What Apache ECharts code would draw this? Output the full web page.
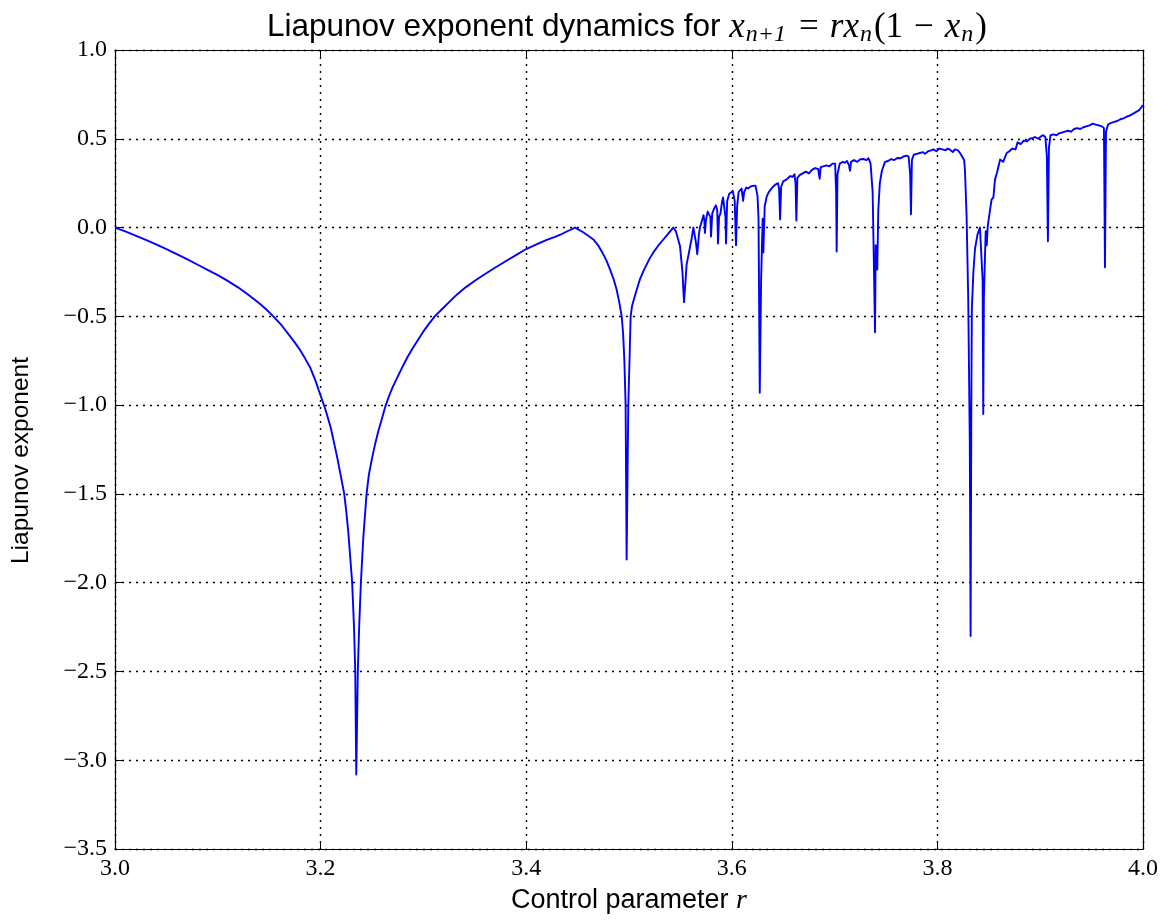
<!DOCTYPE html>
<html>
<head>
<meta charset="utf-8">
<script src="https://cdn.jsdelivr.net/npm/echarts@6/dist/echarts.min.js"></script>
<style>
  html, body { margin: 0; padding: 0; background: #fff; }
  #chart { width: 1165px; height: 920px; }
</style>
</head>
<body>
<div id="chart"></div>
<script>
// Control parameter r (x) and the estimated Liapunov exponent (y)
const rValues = [
  // period-2 window
  3.000, 3.010, 3.020, 3.030, 3.040, 3.050, 3.060, 3.070, 3.080, 3.090,
  3.100, 3.110, 3.120, 3.130, 3.140, 3.147, 3.154, 3.162, 3.170, 3.175,
  3.180, 3.185, 3.190, 3.195, 3.199, 3.202, 3.205, 3.210, 3.216, 3.219,
  3.223, 3.225, 3.227, 3.2307, 3.2325, 3.2337, 3.2347, 3.2362, 3.2375, 3.2392,
  3.2415, 3.2447, 3.247, 3.250, 3.253, 3.256, 3.259, 3.2634, 3.2665, 3.270,
  3.275, 3.280, 3.285, 3.290, 3.295, 3.300, 3.305, 3.311, 3.318, 3.325,
  3.333, 3.3417, 3.350, 3.360, 3.370, 3.380, 3.390, 3.400, 3.410, 3.420,
  3.428, 3.435, 3.441, 3.4475,
  // period-4 window
  3.451, 3.455, 3.460, 3.4653, 3.470, 3.474, 3.478, 3.4815, 3.485, 3.488,
  3.4905, 3.4929, 3.4943, 3.4955, 3.4967, 3.4977, 3.4993, 3.5005, 3.5016, 3.503,
  3.505, 3.508, 3.5107, 3.514, 3.517, 3.520, 3.5237, 3.528, 3.533, 3.538,
  3.543,
  // period-8 and period-16 windows
  3.5455, 3.5475, 3.5496, 3.5520, 3.5535, 3.5550, 3.5560, 3.5590, 3.5610, 3.5626,
  3.5650, 3.5664, 3.5680, 3.5690,
  // onset of chaos
  3.5700, 3.5715, 3.5725, 3.5733, 3.5739, 3.5748, 3.5765, 3.5780, 3.5792, 3.5798,
  3.5810, 3.5830, 3.5845, 3.5858, 3.5866, 3.5876, 3.5890, 3.5905, 3.5915, 3.5930,
  3.5938, 3.5944, 3.5955, 3.5975, 3.5990, 3.6010, 3.6028, 3.6041, 3.6052, 3.6066,
  3.6080, 3.6095, 3.6110, 3.6120, 3.6140, 3.6160, 3.6180, 3.6200, 3.6215, 3.6230,
  3.6250,
  // chaotic band with periodic windows
  3.6260, 3.6272, 3.6285, 3.6300, 3.6307, 3.6320, 3.6340, 3.6360, 3.6380, 3.6400,
  3.6420, 3.6450, 3.6460, 3.6470, 3.6480, 3.6500, 3.6530, 3.6550, 3.6570, 3.6590,
  3.6610, 3.6620, 3.6628, 3.6638, 3.6660, 3.6690, 3.6720, 3.6750, 3.6780, 3.6810,
  3.6840, 3.6855, 3.6865, 3.6890, 3.6920, 3.6950, 3.6980, 3.7005, 3.7015, 3.7020,
  3.7028, 3.7050, 3.7080, 3.7100, 3.7120, 3.7140, 3.7150, 3.7160, 3.7190, 3.7220,
  3.7250, 3.7280, 3.7310, 3.7330, 3.7350, 3.7370, 3.7385, 3.7393, 3.7400, 3.7410,
  3.7415, 3.7425, 3.7440, 3.7460, 3.7474, 3.7490, 3.7520, 3.7550, 3.7580, 3.7610,
  3.7640, 3.7670, 3.7700, 3.7720, 3.7735, 3.7743, 3.7752, 3.7770, 3.7800, 3.7830,
  3.7860, 3.7880, 3.7910, 3.7940, 3.7960, 3.7990, 3.8020, 3.8050, 3.8080, 3.8100,
  3.8120, 3.8150, 3.8170, 3.8200, 3.8220, 3.8236, 3.8260, 3.8268, 3.8284, 3.8300,
  3.8315, 3.8323, 3.8330, 3.8335, 3.8350, 3.8366, 3.8390, 3.8414, 3.8430, 3.8440,
  3.8446, 3.8452, 3.8463, 3.8470, 3.8480, 3.8490, 3.8512, 3.8527, 3.8545, 3.8560,
  3.8580, 3.8610, 3.8640, 3.8674, 3.8700, 3.8730, 3.8760, 3.8780, 3.8810, 3.8840,
  3.8870, 3.8900, 3.8930, 3.8950, 3.8980, 3.9010, 3.9030, 3.9050, 3.9065, 3.9075,
  3.9085, 3.9100, 3.9130, 3.9160, 3.9180, 3.9210, 3.9240, 3.9270, 3.9300, 3.9330,
  3.9360, 3.9390, 3.9420, 3.9450, 3.9480, 3.9510, 3.9540, 3.9570, 3.9600, 3.9620,
  3.9630, 3.9640, 3.9660, 3.9690, 3.9720, 3.9750, 3.9780, 3.9810, 3.9840, 3.9870,
  3.9900, 3.9930, 3.9960, 3.9980, 4.0000
];

const lyapValues = [
  // period-2 window
  0.000, -0.022, -0.045, -0.070, -0.095, -0.122, -0.150, -0.178, -0.208, -0.238,
  -0.268, -0.302, -0.338, -0.380, -0.425, -0.460, -0.500, -0.550, -0.610, -0.648,
  -0.690, -0.738, -0.790, -0.862, -0.930, -0.980, -1.030, -1.130, -1.290, -1.380,
  -1.500, -1.600, -1.720, -2.000, -2.250, -2.500, -3.080, -2.500, -2.250, -2.000,
  -1.750, -1.500, -1.390, -1.300, -1.220, -1.150, -1.090, -1.000, -0.950, -0.900,
  -0.840, -0.780, -0.725, -0.675, -0.630, -0.585, -0.545, -0.500, -0.460, -0.420,
  -0.375, -0.334, -0.300, -0.262, -0.225, -0.190, -0.155, -0.121, -0.095, -0.070,
  -0.052, -0.035, -0.018, 0.000,
  // period-4 window
  -0.012, -0.025, -0.045, -0.067, -0.100, -0.140, -0.185, -0.236, -0.290, -0.350,
  -0.420, -0.500, -0.600, -0.750, -1.000, -1.870, -1.000, -0.750, -0.500, -0.440,
  -0.400, -0.340, -0.290, -0.245, -0.210, -0.175, -0.140, -0.105, -0.070, -0.035,
  0.000,
  // period-8 and period-16 windows
  -0.020, -0.060, -0.105, -0.250, -0.420, -0.300, -0.210, -0.120, -0.060, 0.000,
  -0.080, -0.150, -0.040, 0.000,
  // onset of chaos
  0.010, 0.050, 0.070, 0.040, -0.030, 0.040, 0.090, 0.100, 0.060, -0.050,
  0.080, 0.110, 0.125, 0.100, -0.090, 0.060, 0.080, 0.145, 0.170, 0.160,
  0.060, -0.090, 0.150, 0.190, 0.200, 0.205, 0.150, -0.100, 0.120, 0.200,
  0.210, 0.220, 0.150, 0.200, 0.225, 0.220, 0.230, 0.235, 0.240, 0.236,
  0.180,
  // chaotic band with periodic windows
  0.050, -0.930, -0.300, 0.050, -0.140, 0.120, 0.176, 0.200, 0.215, 0.230,
  0.240, 0.250, 0.220, 0.046, 0.230, 0.260, 0.270, 0.280, 0.290, 0.285,
  0.300, 0.250, 0.040, 0.280, 0.295, 0.305, 0.315, 0.305, 0.325, 0.335,
  0.330, 0.275, 0.340, 0.345, 0.350, 0.345, 0.360, 0.360, 0.200, -0.135,
  0.300, 0.360, 0.370, 0.365, 0.375, 0.350, 0.320, 0.370, 0.380, 0.370,
  0.385, 0.386, 0.380, 0.390, 0.360, 0.200, -0.300, -0.590, -0.100, -0.150,
  -0.236, 0.100, 0.250, 0.320, 0.326, 0.370, 0.375, 0.385, 0.380, 0.392,
  0.390, 0.400, 0.405, 0.400, 0.300, 0.075, 0.380, 0.410, 0.415, 0.420,
  0.425, 0.415, 0.430, 0.435, 0.440, 0.430, 0.445, 0.440, 0.435, 0.445,
  0.440, 0.425, 0.440, 0.435, 0.420, 0.430, 0.380, 0.326, 0.064, -0.405,
  -1.200, -2.300, -1.000, -0.460, -0.250, -0.118, -0.040, 0.000, -0.010, -0.300,
  -1.050, -0.400, -0.160, -0.020, -0.100, 0.010, 0.100, 0.157, 0.170, 0.270,
  0.310, 0.383, 0.370, 0.420, 0.430, 0.445, 0.440, 0.480, 0.470, 0.490,
  0.485, 0.500, 0.505, 0.510, 0.500, 0.515, 0.520, 0.510, 0.400, -0.077,
  0.450, 0.520, 0.525, 0.520, 0.530, 0.535, 0.540, 0.545, 0.540, 0.555,
  0.560, 0.555, 0.565, 0.570, 0.575, 0.585, 0.580, 0.575, 0.570, 0.560,
  -0.224, 0.540, 0.580, 0.590, 0.595, 0.600, 0.610, 0.615, 0.624, 0.630,
  0.640, 0.650, 0.660, 0.675, 0.690
];

// Axis ranges and tick labels
const xTicks = ['3.0', '3.2', '3.4', '3.6', '3.8', '4.0'];
const yTicks = ['\u22123.5', '\u22123.0', '\u22122.5', '\u22122.0', '\u22121.5', '\u22121.0', '\u22120.5', '0.0', '0.5', '1.0'];
const xMin = 3.0, xMax = 4.0, xStep = 0.2;
const yMin = -3.5, yMax = 1.0, yStep = 0.5;

const points = rValues.map((r, i) => [r, lyapValues[i]]);

const tickFont = {
  fontFamily: '"Liberation Serif", "DejaVu Serif", serif',
  fontSize: 24,
  color: '#000'
};

function xLabel(v) {
  const i = Math.round((v - xMin) / xStep);
  return xTicks[i] !== undefined ? xTicks[i] : '';
}
function yLabel(v) {
  const i = Math.round((v - yMin) / yStep);
  return yTicks[i] !== undefined ? yTicks[i] : '';
}

const gridLine = { show: true, lineStyle: { color: '#000', width: 1.4, type: [2, 5] } };
const frameLine = { show: true, onZero: false, lineStyle: { color: '#000', width: 1.2 } };
const tickIn = { show: true, inside: true, length: 8, lineStyle: { color: '#000', width: 1 } };

const serif = '"Liberation Serif", serif';
const sans = '"Liberation Sans", Arial, sans-serif';

const chart = echarts.init(document.getElementById('chart'), null, { renderer: 'canvas' });

chart.setOption({
  animation: false,
  backgroundColor: '#fff',
  title: {
    text: 'Liapunov exponent dynamics for {m|x}{s|n+1}{e|=}{m|rx}{s|n}{o|(1}{e|\u2212}{m|x}{s|n}{o|)}',
    left: 262,
    top: 3,
    textStyle: {
      fontFamily: sans,
      fontSize: 31.5,
      fontWeight: 'normal',
      color: '#000',
      rich: {
        m: { fontFamily: serif, fontStyle: 'italic', fontSize: 35, verticalAlign: 'middle' },
        o: { fontFamily: serif, fontSize: 35, verticalAlign: 'middle' },
        e: { fontFamily: serif, fontSize: 35, verticalAlign: 'middle', padding: [0, 11, 0, 11] },
        s: { fontFamily: serif, fontStyle: 'italic', fontSize: 24, padding: [15, 2, 0, 1], verticalAlign: 'middle' }
      }
    }
  },
  // Vertical axis title
  graphic: [
    {
      type: 'text',
      left: 9,
      top: 357,
      rotation: Math.PI / 2,
      style: {
        text: 'Liapunov exponent',
        font: '24.5px ' + sans,
        fill: '#000'
      }
    }
  ],
  grid: { left: 115, right: 22, top: 50, bottom: 70, containLabel: false },
  xAxis: [
    {
      type: 'value', min: xMin, max: xMax, interval: xStep, position: 'bottom',
      name: 'Control parameter {i|r}',
      nameLocation: 'middle', nameGap: 38,
      nameTextStyle: {
        fontFamily: sans, fontSize: 27, color: '#000',
        rich: { i: { fontFamily: serif, fontStyle: 'italic', fontSize: 28 } }
      },
      axisLine: frameLine, axisTick: tickIn,
      axisLabel: Object.assign({ margin: 8, formatter: xLabel }, tickFont),
      splitLine: gridLine
    },
    {
      type: 'value', min: xMin, max: xMax, interval: xStep, position: 'top',
      axisLine: frameLine, axisTick: tickIn,
      axisLabel: { show: false }, splitLine: { show: false }
    }
  ],
  yAxis: [
    {
      type: 'value', min: yMin, max: yMax, interval: yStep, position: 'left',
      axisLine: frameLine, axisTick: tickIn,
      axisLabel: Object.assign({ margin: 8, formatter: yLabel }, tickFont),
      splitLine: gridLine
    },
    {
      type: 'value', min: yMin, max: yMax, interval: yStep, position: 'right',
      axisLine: frameLine, axisTick: tickIn,
      axisLabel: { show: false }, splitLine: { show: false }
    }
  ],
  series: [
    {
      type: 'line',
      data: points,
      xAxisIndex: 0, yAxisIndex: 0,
      showSymbol: false,
      symbol: 'none',
      smooth: false,
      clip: true,
      lineStyle: { color: '#0000ff', width: 1.9, join: 'round' },
      emphasis: { disabled: true }
    }
  ]
});
</script>
</body>
</html>
